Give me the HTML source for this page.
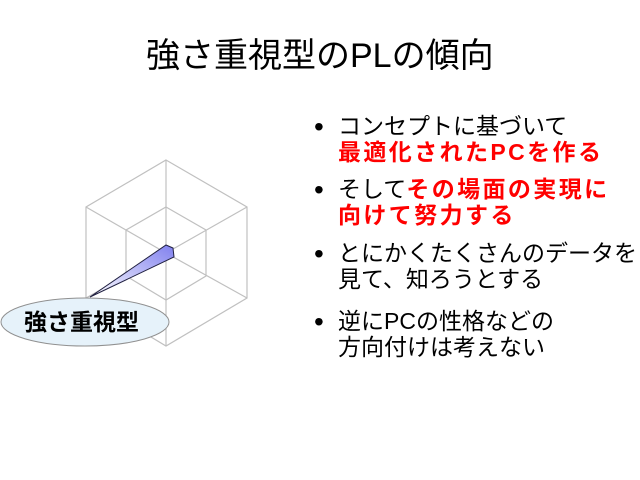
<!DOCTYPE html>
<html><head><meta charset="utf-8"><style>
body{margin:0;width:640px;height:480px;background:#fff;overflow:hidden;position:relative;font-family:"Liberation Sans","Noto Sans CJK JP",sans-serif}
.t{position:absolute;white-space:nowrap}
.b{position:absolute;font-size:23px;line-height:26px;white-space:nowrap;left:338px}
.d{position:absolute;left:314px;font-size:28px;line-height:26px}
.r{color:#f00;font-weight:bold;letter-spacing:2.4px}
</style></head><body>
<div class="t" style="left:146px;top:36px;font-size:34px;line-height:40px">強さ重視型のPLの傾向</div>
<svg width="640" height="480" style="position:absolute;left:0;top:0">
<defs><linearGradient id="g" x1="0" y1="1" x2="1" y2="0"><stop offset="0" stop-color="#fff"/><stop offset="1" stop-color="#8080ee"/></linearGradient></defs>
<g stroke="#c0c0c0" stroke-width="1.2" fill="none">
<polygon points="166,160 247,207 247,298 166,346 86,298 86,207"/>
<polygon points="166,207 206,230 206,276 166,300 126,276 126,230"/>
<line x1="166" y1="253" x2="166" y2="160"/><line x1="166" y1="253" x2="247" y2="207"/><line x1="166" y1="253" x2="247" y2="298"/>
<line x1="166" y1="253" x2="166" y2="346"/><line x1="166" y1="253" x2="86" y2="298"/><line x1="166" y1="253" x2="86" y2="207"/>
</g>
<polygon points="166,245 173,248 174,257 90,297" fill="url(#g)" stroke="#202040" stroke-width="1"/>
<ellipse cx="85" cy="322" rx="84" ry="24" fill="#e6f2fa" stroke="#909090" stroke-width="1"/>
</svg>
<div class="t" style="left:24px;top:308px;font-size:23px;font-weight:bold;line-height:28px">強さ重視型</div>
<div class="d" style="top:114px">•</div>
<div class="b" style="top:113px">コンセプトに基づいて<br><span class="r">最適化されたPCを作る</span></div>
<div class="d" style="top:177px">•</div>
<div class="b" style="top:176px">そして<span class="r">その場面の実現に<br>向けて努力する</span></div>
<div class="d" style="top:241px">•</div>
<div class="b" style="top:240px">とにかくたくさんのデータを<br>見て、知ろうとする</div>
<div class="d" style="top:309px">•</div>
<div class="b" style="top:308px">逆にPCの性格などの<br>方向付けは考えない</div>
</body></html>
